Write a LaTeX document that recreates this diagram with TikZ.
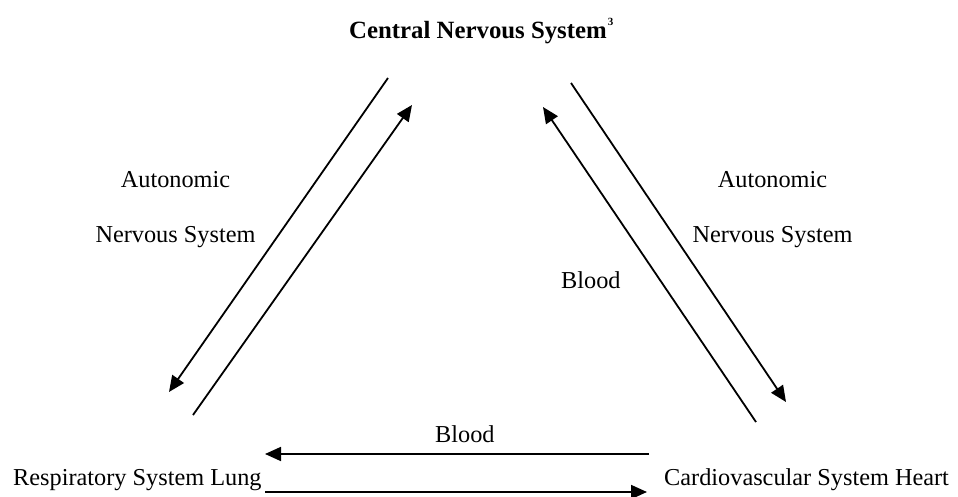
\documentclass[tikz,border=0pt]{standalone}
\usepackage{fontspec}
\setmainfont{Liberation Serif}
\usetikzlibrary{arrows.meta}
\begin{document}
\begin{tikzpicture}[x=1pt,y=-1pt,
  lbl/.style={inner sep=0pt,font=\fontsize{24.3}{29}\selectfont},
  conn/.style={line width=1.8pt,-{Triangle[length=16pt,width=14pt]}}]
\useasboundingbox (0,0) rectangle (958,497);
% system nodes
\node[lbl,anchor=base west,font=\fontsize{24.8}{29}\selectfont\bfseries] (cns) at (349,39) {Central Nervous System\kern1pt\raisebox{13pt}{\fontsize{11}{11}\selectfont 3}};
\node[lbl,anchor=base west] (lung) at (13,485) {Respiratory System Lung};
\node[lbl,anchor=base west] (heart) at (664,485) {Cardiovascular System Heart};
% labels
\node[lbl,anchor=base] (la1) at (175.5,188) {Autonomic};
\node[lbl,anchor=base] (la2) at (175.5,242) {Nervous System};
\node[lbl,anchor=base] (ra1) at (772.5,188) {Autonomic};
\node[lbl,anchor=base] (ra2) at (772.5,242) {Nervous System};
\node[lbl,anchor=base west] (rb) at (561,288) {Blood};
\node[lbl,anchor=base west] (bb) at (435,442) {Blood};
% connector end points
\coordinate (l1s) at (388,78);  \coordinate (l1e) at (169,392);
\coordinate (l2s) at (193,415); \coordinate (l2e) at (412,105);
\coordinate (r1s) at (756,422); \coordinate (r1e) at (543,107);
\coordinate (r2s) at (571,83);  \coordinate (r2e) at (786,402);
\coordinate (b1s) at (649,454); \coordinate (b1e) at (265,454);
\coordinate (b2s) at (265,492); \coordinate (b2e) at (647,492);
% connectors
\draw[conn] (l1s) -- (l1e);
\draw[conn] (l2s) -- (l2e);
\draw[conn] (r1s) -- (r1e);
\draw[conn] (r2s) -- (r2e);
\draw[conn] (b1s) -- (b1e);
\draw[conn] (b2s) -- (b2e);
\end{tikzpicture}
\end{document}
